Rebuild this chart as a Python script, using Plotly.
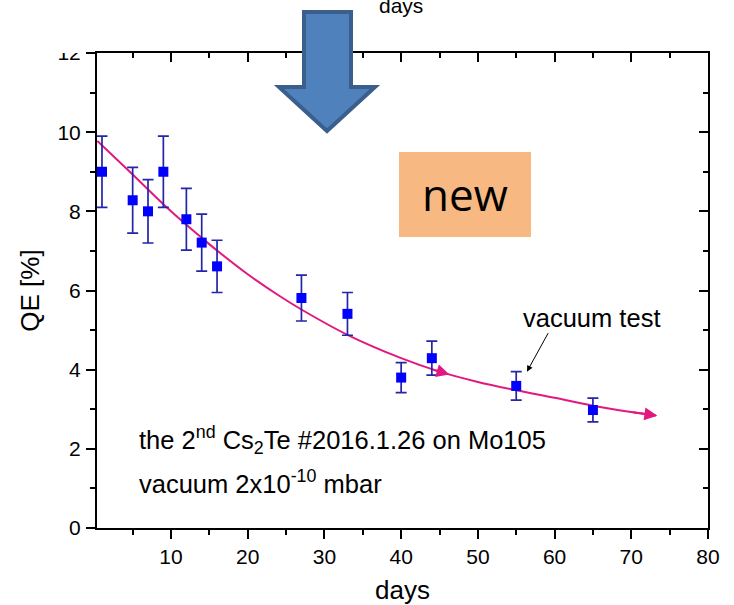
import plotly.graph_objects as go

# ---- data ----
days = [1, 5, 7, 9, 12, 14, 16, 27, 33, 40, 44, 55, 65]
qe = [9.0, 8.28, 8.0, 9.0, 7.8, 7.21, 6.61, 5.81, 5.41, 3.80, 4.29, 3.59, 2.98]
qe_err = [0.9, 0.83, 0.8, 0.9, 0.78, 0.72, 0.66, 0.58, 0.54, 0.38, 0.43, 0.36, 0.30]

fit_days = [0.4, 5, 9, 12, 14, 16, 20, 24, 27, 33, 40, 45, 50, 55, 60, 65, 70, 73.2]
fit_qe = [9.78, 8.93, 8.18, 7.66, 7.33, 7.01, 6.41, 5.88, 5.52, 4.88, 4.29, 3.95, 3.69, 3.48, 3.29, 3.09, 2.93, 2.84]

x_ticks = [10, 20, 30, 40, 50, 60, 70, 80]
y_ticks = [0, 2, 4, 6, 8, 10, 12]

# ---- geometry helpers (figure pixels -> paper) ----
FW, FH = 734, 605
ML, MR, MT, MB = 97, 26, 53, 77
PW, PH = FW - ML - MR, FH - MT - MB


def PX(px):
    return (px - ML) / PW


def PY(py):
    return (FH - MB - py) / PH


FONT = "Liberation Sans, Arial, sans-serif"
PINK = "#E3187F"

fig = go.Figure()

fig.add_trace(go.Scatter(
    x=fit_days, y=fit_qe, mode="lines",
    line=dict(color=PINK, width=2, shape="spline", smoothing=1.0),
    hoverinfo="skip", showlegend=False))

fig.add_trace(go.Scatter(
    x=days, y=qe, mode="markers",
    marker=dict(symbol="square", size=10, color="#0000FF"),
    error_y=dict(type="data", array=qe_err, visible=True,
                 color="#2525A8", thickness=1.7, width=5.5),
    showlegend=False))

# invisible trace for mirrored (inside-tick) top/right axes
fig.add_trace(go.Scatter(x=[40], y=[6], xaxis="x2", yaxis="y2",
                         mode="markers", marker=dict(opacity=0),
                         hoverinfo="skip", showlegend=False))

XR = [0.35, 80]
YR = [0, 12]

axis_common = dict(showgrid=False, zeroline=False, showline=True,
                   linecolor="black", linewidth=2, tickcolor="black",
                   tickwidth=1.5, automargin=False)

fig.update_layout(
    width=FW, height=FH,
    margin=dict(l=ML, r=MR, t=MT, b=MB, pad=0),
    paper_bgcolor="white", plot_bgcolor="white",
    font=dict(family=FONT, color="black"),
    xaxis=dict(range=XR, tickvals=x_ticks, ticks="outside", ticklen=9,
               tickfont=dict(size=21, family=FONT),
               minor=dict(dtick=5, tick0=0, ticks="outside", ticklen=5,
                          tickcolor="black", tickwidth=1.5),
               title=dict(text="days", font=dict(size=26, family=FONT),
                          standoff=20),
               **axis_common),
    yaxis=dict(range=YR, tickvals=y_ticks, ticks="outside", ticklen=9,
               tickfont=dict(size=21, family=FONT), ticklabelstandoff=1,
               minor=dict(dtick=1, tick0=0, ticks="outside", ticklen=5,
                          tickcolor="black", tickwidth=1.5),
               title=dict(text="QE [%]", font=dict(size=26, family=FONT),
                          standoff=10),
               **axis_common),
    xaxis2=dict(range=XR, overlaying="x", side="top", anchor="y2",
                tickvals=x_ticks, ticks="inside", ticklen=9,
                showticklabels=False,
                minor=dict(dtick=5, tick0=0, ticks="inside", ticklen=5,
                           tickcolor="black", tickwidth=1.5),
                **axis_common),
    yaxis2=dict(range=YR, overlaying="y", side="right", anchor="x2",
                tickvals=y_ticks, ticks="inside", ticklen=9,
                showticklabels=False,
                minor=dict(dtick=1, tick0=0, ticks="inside", ticklen=5,
                           tickcolor="black", tickwidth=1.5),
                **axis_common),
)

annotations = [
    dict(x=5.5, y=2.22, xref="x", yref="y", xanchor="left", yanchor="middle",
         text="the 2<sup>nd</sup> Cs<sub>2</sub>Te #2016.1.26 on Mo105",
         showarrow=False, font=dict(size=25.5, family=FONT, color="black")),
    dict(x=5.5, y=1.15, xref="x", yref="y", xanchor="left", yanchor="middle",
         text="vacuum 2x10<sup>-10</sup> mbar",
         showarrow=False, font=dict(size=25.5, family=FONT, color="black")),
    dict(x=PX(591), y=PY(318), xref="paper", yref="paper",
         xanchor="center", yanchor="middle", text="vacuum test",
         showarrow=False, font=dict(size=25.5, family=FONT, color="black")),
    # black pointer arrow
    dict(x=56.4, y=3.95, xref="x", yref="y", text="", showarrow=True,
         ax=22, ay=-40, arrowhead=2, arrowsize=1.2, arrowwidth=1,
         arrowcolor="black"),
    # pink arrowheads on the fit curve
    dict(x=73.4, y=2.835, xref="x", yref="y", text="", showarrow=True,
         axref="x", ayref="y", ax=70, ay=2.93, arrowhead=2, arrowsize=1.3,
         arrowwidth=2, arrowcolor=PINK, standoff=0),
    dict(x=46.3, y=3.88, xref="x", yref="y", text="", showarrow=True,
         axref="x", ayref="y", ax=44.0, ay=4.01, arrowhead=2, arrowsize=1.3,
         arrowwidth=2, arrowcolor=PINK, standoff=0),
    # "new" label in orange box
    dict(x=PX(465), y=PY(194), xref="paper", yref="paper",
         xanchor="center", yanchor="middle", text="new", showarrow=False,
         font=dict(size=44, family="Open Sans, Noto Sans, sans-serif",
                   color="black")),
    # cut-off "days" text at the top of the slide
    dict(x=PX(401), y=PY(5), xref="paper", yref="paper",
         xanchor="center", yanchor="middle", text="days", showarrow=False,
         font=dict(size=21, family=FONT, color="black")),
]
fig.update_layout(annotations=annotations)

# big blue down arrow
arrow_pts = [(304, 12), (351, 12), (351, 87), (375, 87), (327, 131),
             (279, 87), (304, 87)]
path = "M " + " L ".join(f"{PX(a):.5f},{PY(b):.5f}" for a, b in arrow_pts) + " Z"

shapes = [
    # white cover hiding top part of the "12" label (cropped slide image)
    dict(type="rect", xref="paper", yref="paper", x0=PX(0), x1=PX(86),
         y0=PY(53), y1=PY(0), fillcolor="white", line=dict(width=0),
         layer="above"),
    dict(type="rect", xref="paper", yref="paper", x0=PX(399), x1=PX(531),
         y0=PY(237), y1=PY(152), fillcolor="#F7B882", line=dict(width=0),
         layer="above"),
    dict(type="path", xref="paper", yref="paper", path=path,
         fillcolor="#4F81BD", line=dict(color="#3A5F8C", width=4),
         layer="above"),
]
fig.update_layout(shapes=shapes)

fig.write_html("out.html")
